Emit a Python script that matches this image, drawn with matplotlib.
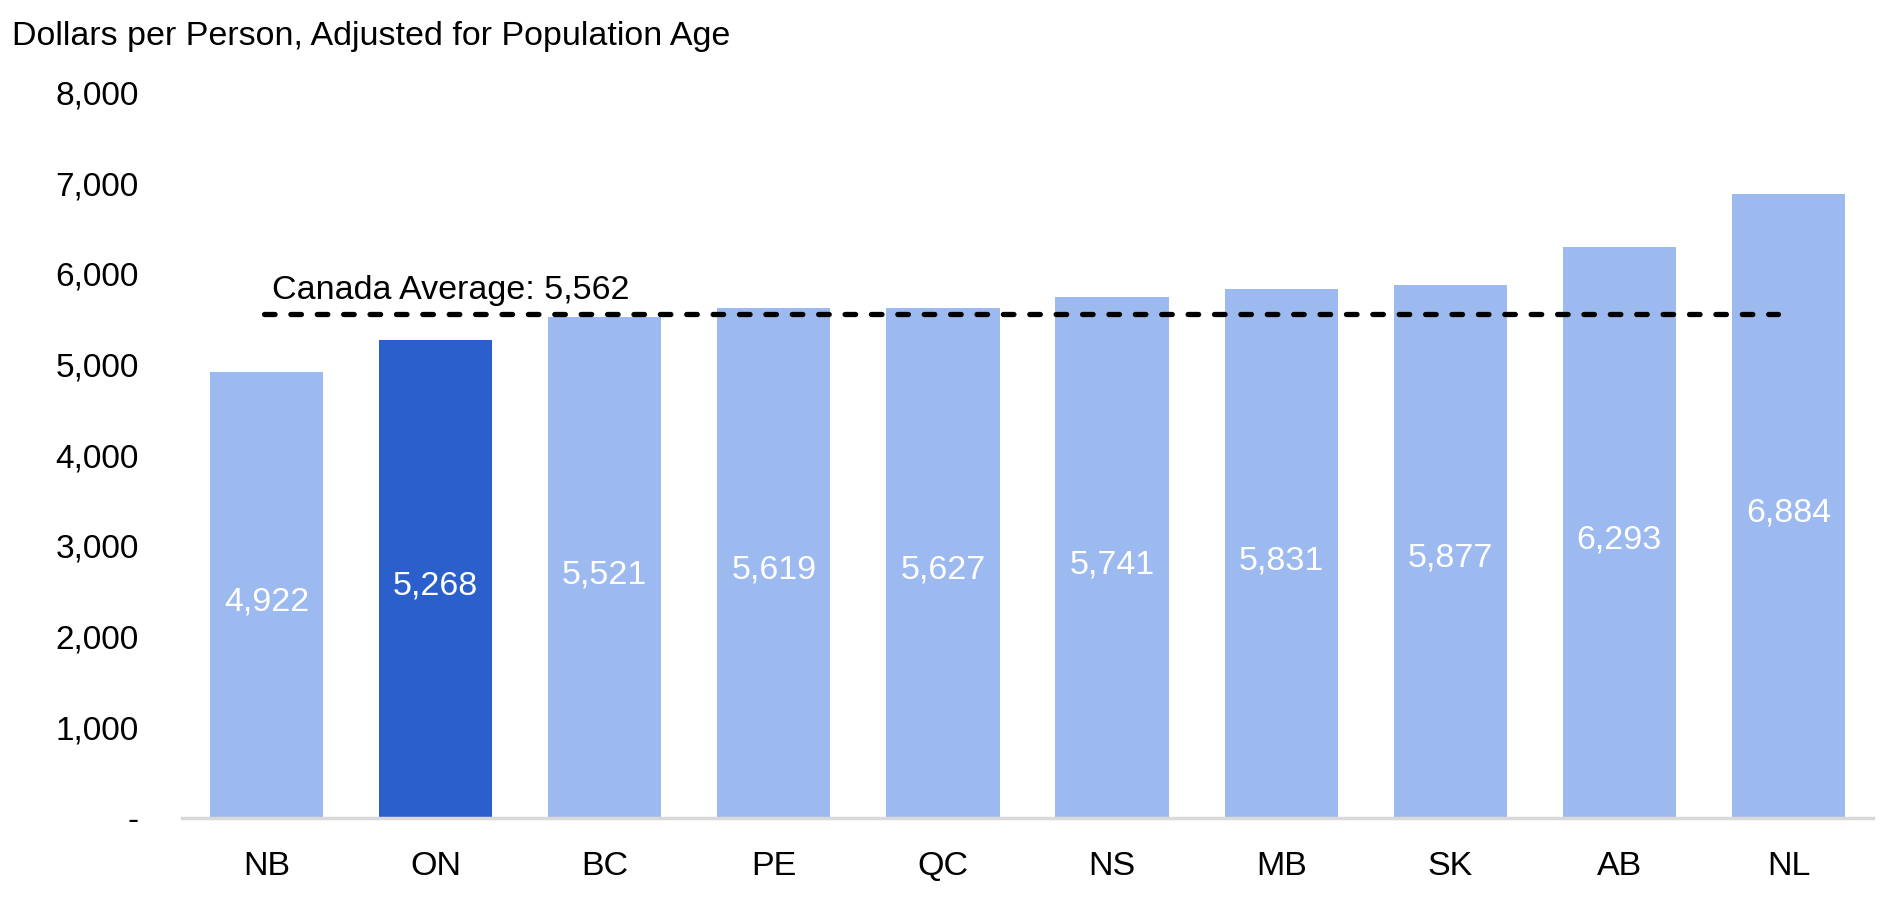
import matplotlib
matplotlib.use("Agg")
import matplotlib.pyplot as plt
from matplotlib.ticker import FuncFormatter

plt.rcParams['font.family'] = ['Liberation Sans', 'DejaVu Sans']

provinces = ["NB", "ON", "BC", "PE", "QC", "NS", "MB", "SK", "AB", "NL"]
spending = [4922, 5268, 5521, 5619, 5627, 5741, 5831, 5877, 6293, 6884]
canada_avg = 5562
highlight = "ON"

light_blue = "#9DBAF0"
dark_blue = "#2B60CC"
fs = 24.5

fig = plt.figure(figsize=(18.86, 9.08), dpi=100)
ax = fig.add_axes([182 / 1886, 1 - 818 / 908, (1873 - 182) / 1886, (818 - 92.4) / 908])

colors = [dark_blue if p == highlight else light_blue for p in provinces]
x = range(len(provinces))
ax.bar(x, spending, width=0.67, color=colors, zorder=2)

for i, v in enumerate(spending):
    ax.annotate(f"{v:,}", (i, v / 2), xytext=(0, -5), textcoords="offset points",
                ha="center", va="center", color="white", fontsize=fs)

# canada average line (stops a bit short of the last bar centre)
ax.plot([-0.015, len(provinces) - 1.06], [canada_avg, canada_avg], color="black", lw=3.8,
        linestyle=(0, (2.0, 3.0)), dash_capstyle="round", zorder=3)
ax.text(0.03, canada_avg + 255, f"Canada Average: {canada_avg:,}", fontsize=fs,
        ha="left", va="center", color="black")

ax.set_xlim(-0.5, len(provinces) - 0.5)
ax.set_ylim(0, 8000)
ax.set_yticks(range(0, 8001, 1000))
ax.yaxis.set_major_formatter(FuncFormatter(lambda v, p: "-" if v == 0 else f"{int(v):,}"))
ax.set_xticks(list(x))
ax.set_xticklabels(provinces)
ax.tick_params(axis="y", length=0, labelsize=24, pad=31)
ax.tick_params(axis="x", length=0, labelsize=fs, pad=23.5)

for s in ["top", "right", "left"]:
    ax.spines[s].set_visible(False)
ax.spines["bottom"].set_color("#D9D9D9")
ax.spines["bottom"].set_linewidth(2.5)
ax.spines["bottom"].set_zorder(4)

fig.text(12 / 1886, 1 - 36 / 908, "Dollars per Person, Adjusted for Population Age",
         fontsize=fs, ha="left", va="center")

fig.savefig("out.png", dpi=100)
